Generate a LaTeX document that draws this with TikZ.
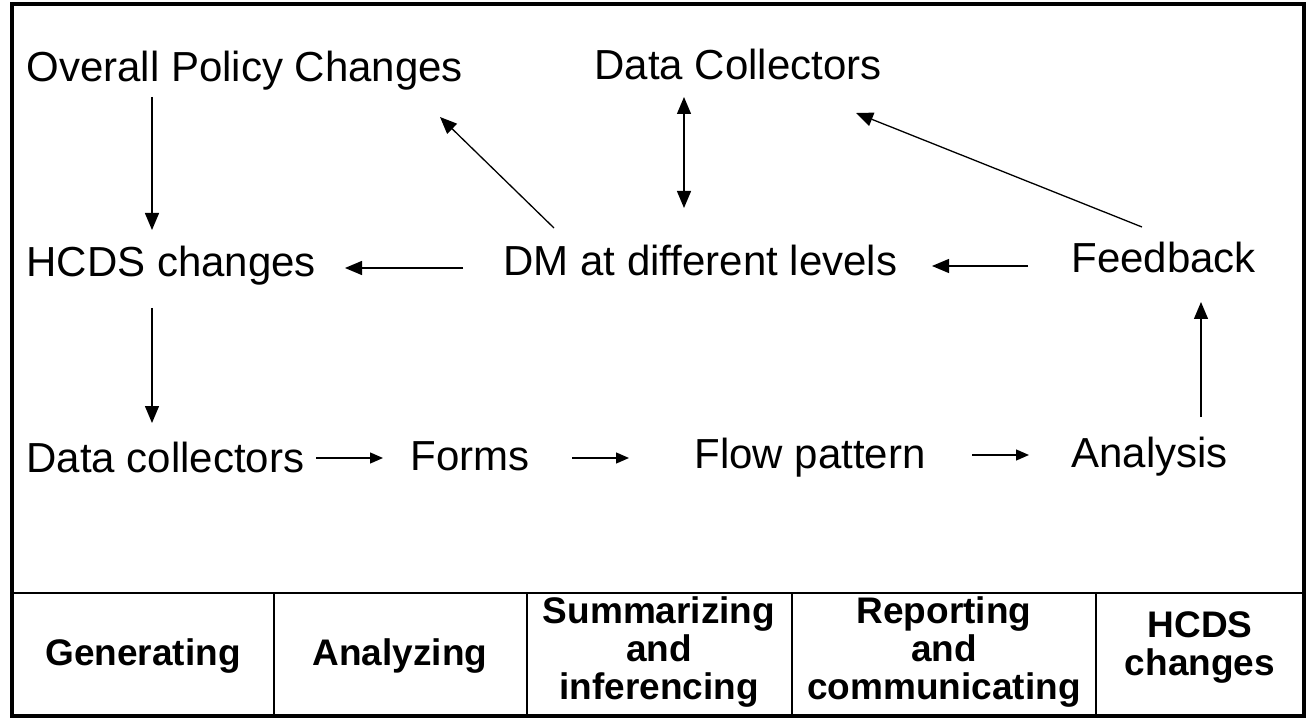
\documentclass[tikz,border=0pt]{standalone}
\usepackage{fontspec}
\setmainfont{Liberation Sans}
\usetikzlibrary{arrows.meta,calc}
\begin{document}
\begin{tikzpicture}[x=0.5pt,y=-0.5pt,
 lbl/.style={anchor=base west, inner sep=0pt, font=\fontsize{21}{25}\selectfont},
 cell/.style={inner sep=0pt, align=center, font=\fontsize{18.5}{19}\selectfont\bfseries},
 arr/.style={-{Triangle[length=8.5pt,width=7pt]}, line width=0.65pt},
 sarr/.style={-{Triangle[length=6.5pt,width=5.5pt]}, line width=0.65pt},
 darr/.style={{Triangle[length=8.5pt,width=7pt]}-{Triangle[length=8.5pt,width=7pt]}, line width=0.65pt},
 frame/.style={line width=1.6pt},
 rule/.style={line width=1pt},
 divider/.style={line width=0.6pt}]
\useasboundingbox (0,0) rectangle (1314,722);

% text nodes
\node[lbl] (opc) at (26,82) {Overall Policy Changes};
\node[lbl] (dcu) at (594,80) {Data Collectors};
\node[lbl] (hc) at (26,277) {HCDS changes};
\node[lbl] (dm) at (503,276) {DM at different levels};
\node[lbl] (fb) at (1071,272) {Feedback};
\node[lbl] (dcl) at (26,472) {Data collectors};
\node[lbl] (fo) at (410,470) {Forms};
\node[lbl] (fp) at (694,468) {Flow pattern};
\node[lbl] (an) at (1071,467) {Analysis};

% connectors
\draw[arr] ($(opc.base west)+(126,15)$) -- ($(hc.base west)+(126,-47)$);
\draw[arr] ($(dm.base west)+(-40,-8)$) -- ($(hc.base west)+(319,-9)$);
\draw[arr] ($(dm.base west)+(51,-48)$) -- ($(opc.base west)+(414,35)$);
\draw[darr] ($(dcu.base west)+(90,17)$) -- ($(dm.base west)+(181,-68)$);
\draw[arr] ($(fb.base west)+(71,-45)$) -- ($(dcu.base west)+(262,33)$);
\draw[arr] ($(fb.base west)+(-43,-6)$) -- ($(dm.base west)+(429,-10)$);
\draw[arr] ($(hc.base west)+(126,31)$) -- ($(dcl.base west)+(126,-49)$);
\draw[sarr] ($(dcl.base west)+(290,-14)$) -- ($(fo.base west)+(-27,-12)$);
\draw[sarr] ($(fo.base west)+(162,-12)$) -- ($(fp.base west)+(-65,-10)$);
\draw[sarr] ($(fp.base west)+(278,-13)$) -- ($(an.base west)+(-42,-12)$);
\draw[arr] ($(an.base west)+(130,-50)$) -- ($(fb.base west)+(130,30)$);

% table
\draw[rule] (12,593) -- (1304,593);
\foreach \x in {274,527,792,1096} \draw[divider] (\x,593) -- (\x,716);
\draw[frame] (12,4) rectangle (1304,716);

\node[cell] (c1) at (143,656) {Generating};
\node[cell] (c2) at (400,656) {Analyzing};
\node[cell] (c3) at (659,652) {Summarizing\\and\\inferencing};
\node[cell] (c4) at (944,652) {Reporting\\and\\communicating};
\node[cell] (c5) at (1200,648) {HCDS\\changes};
\end{tikzpicture}
\end{document}
